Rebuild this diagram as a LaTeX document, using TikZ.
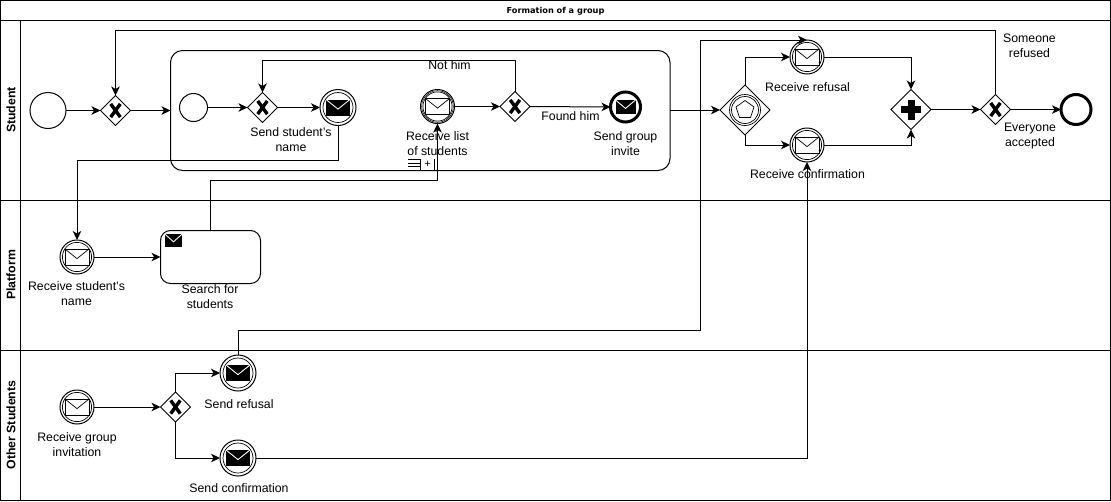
\documentclass[tikz,border=0pt]{standalone}
\usepackage{fontspec}
\setmainfont{Liberation Sans}
\newfontfamily\titlefont{DejaVu Sans}
\usetikzlibrary{shapes.geometric,arrows.meta,calc}
\newcommand{\lbl}{\fontsize{12.3}{15}\selectfont}
\tikzset{
  line/.style={line width=1pt,draw=black},
  flow/.style={line,-{Stealth[length=9pt,width=8.5pt,inset=2.5pt]}},
  evt/.style={circle,draw=black,line width=1pt,fill=white,inner sep=0pt,outer sep=0pt,minimum size=#1},
  thickevt/.style={circle,draw=black,line width=3pt,fill=white,inner sep=0pt,outer sep=0pt,minimum size=#1},
  gw/.style={diamond,aspect=1,draw=black,line width=1pt,fill=white,inner sep=0pt,outer sep=0pt,minimum width=#1,minimum height=#1},
  txt/.style={align=center,inner sep=0pt,font=\lbl},
  lane/.style={rotate=90,font=\fontsize{12.3}{15}\selectfont\bfseries,inner sep=0pt},
  activity/.style={rounded corners=#1,draw=black,line width=1pt,fill=white}
}
% envelope: centre, half width, half height; white or black
\newcommand{\envw}[3]{%
  \draw[line width=.7pt,fill=white] ($(#1)+(-#2,-#3)$) rectangle ($(#1)+(#2,#3)$);
  \draw[line width=.7pt] ($(#1)+(-#2,-#3)$) -- ($(#1)+(0,#3*.2)$) -- ($(#1)+(#2,-#3)$);}
\newcommand{\envb}[3]{%
  \fill[black] ($(#1)+(-#2,-#3)$) rectangle ($(#1)+(#2,#3)$);
  \draw[line width=.9pt,white] ($(#1)+(-#2,-#3)$) -- ($(#1)+(0,#3*.2)$) -- ($(#1)+(#2,-#3)$);}
\newcommand{\xmark}[1]{%
  \draw[line width=3.4pt,black] ($(#1)+(-4.8,-6.6)$) -- ($(#1)+(4.8,6.6)$) ($(#1)+(-4.8,6.6)$) -- ($(#1)+(4.8,-6.6)$);}
\begin{document}
\begin{tikzpicture}[x=1pt,y=-1pt]
\useasboundingbox (0,0) rectangle (1111,501);
\fill[white] (0,0) rectangle (1111,501);
% pool and lanes
\draw[line] (.5,.5) rectangle (1110.5,500.5);
\draw[line] (.5,20.5) -- (1110.5,20.5);
\draw[line] (.5,200.5) -- (1110.5,200.5);
\draw[line] (.5,350.5) -- (1110.5,350.5);
\draw[line] (20.5,20.5) -- (20.5,500.5);
\node[inner sep=0pt,font=\titlefont\bfseries\fontsize{8.2}{10}\selectfont] (title) at (555.5,11) {Formation of a group};
\node[lane] (lstudent) at (11,110) {Student};
\node[lane] (lplatform) at (11,275) {Platform};
\node[lane] (lother) at (11,425) {Other Students};
% sub-process
\node[activity=12pt,minimum width=499.5pt,minimum height=120pt,inner sep=0pt,outer sep=0pt] (sub) at (420.25,110.5) {};
% task
\node[activity=10pt,minimum width=100pt,minimum height=53pt,inner sep=0pt,outer sep=0pt] (task) at (210.5,257) {};
% events and gateways
\node[evt=36pt] (start) at (48,110.5) {};
\node[gw=30pt] (g1) at (115.5,110.5) {};
\node[evt=28pt] (istart) at (193.5,107.5) {};
\node[gw=30pt] (g2) at (262.5,107.5) {};
\node[evt=36pt] (send) at (338,107.5) {};
\node[evt=34pt] (rlist) at (437.5,106.5) {};
\node[gw=30pt] (g3) at (515,106.5) {};
\node[thickevt=30pt] (invite) at (625.5,107) {};
\node[gw=50pt] (ebg) at (745,110) {};
\node[evt=34pt] (rref) at (807,57) {};
\node[evt=34pt] (rconf) at (807,145) {};
\node[gw=40pt] (par) at (911,109.5) {};
\node[gw=30pt] (g4) at (995.5,109.5) {};
\node[thickevt=30pt] (end) at (1076,109.5) {};
\node[evt=34pt] (rname) at (77,257) {};
\node[evt=34pt] (rinv) at (77,407) {};
\node[gw=30pt] (g5) at (175.5,407) {};
\node[evt=36pt] (sref) at (238,373) {};
\node[evt=36pt] (sconf) at (238,458) {};
% inner rings
\foreach \n/\r in {send/15,sref/15,sconf/15,rlist/14.6,rref/14.6,rconf/14.6,rname/14.6,rinv/14.6}
  \draw[line width=.7pt] (\n) circle (\r pt);
\draw[line width=.5pt] (rlist) circle (15.8pt);
% icons
\envb{send}{12}{8}
\envb{sref}{12}{8}
\envb{sconf}{12}{8}
\envw{rlist}{12}{8}
\envw{rref}{12}{8}
\envw{rconf}{12}{8}
\envw{rname}{12}{8}
\envw{rinv}{12}{8}
\envb{invite}{10}{7}
\envb{173.5,240.5}{8.7}{6.5}
\foreach \n in {g1,g2,g3,g4,g5} {\xmark{\n}}
\fill[black] ($(par)+(-10,-3.5)$) rectangle ($(par)+(10,3.5)$);
\fill[black] ($(par)+(-3.5,-10)$) rectangle ($(par)+(3.5,10)$);
\draw[line width=.7pt] (ebg) circle (15.5pt);
\draw[line width=.7pt] (ebg) circle (13.5pt);
\draw[line width=.7pt] (745,100.5) -- (754,107) -- (750.5,117.5) -- (739.5,117.5) -- (736,107) -- cycle;
% loop marker
\draw[line width=.7pt] (408,159.5) -- (420,159.5) (408,163) -- (420,163) (408,166.5) -- (420,166.5);
\draw[line width=.7pt] (420.5,159) -- (420.5,170) (434.5,159) -- (434.5,170);
\node[inner sep=0pt,font=\fontsize{11}{11}\selectfont] (plus) at (427.5,164) {+};
% connectors
\draw[flow] (start) -- (g1);
\draw[flow] (g1) -- (sub.west |- g1);
\draw[flow] (istart) -- (g2);
\draw[flow] (g2) -- (send);
\draw[flow] (rlist) -- (g3);
\draw[flow] (g3) -- (invite);
\draw[flow] (g3.north) |- (262.5,60.5) -- (g2.north);
\draw[flow] (send.south) |- (77,160.5) -- (rname.north);
\draw[flow] (rname) -- (task.west |- rname);
\draw[flow] (task.north) |- (437.5,180.5) -- (rlist.south);
\draw[flow] (sub.east |- ebg) -- (ebg.west);
\draw[flow] (ebg.north) |- (rref.west);
\draw[flow] (ebg.south) |- (rconf.west);
\draw[flow] (rref.east) -| (par.north);
\draw[flow] (rconf.east) -| (par.south);
\draw[flow] (par.east) -- (g4.west);
\draw[flow] (g4.east) -- (end.west);
\draw[flow] (g4.north) |- (115.5,30.5) -- (g1.north);
\draw[flow] (rinv) -- (g5);
\draw[flow] (g5.north) |- (sref.west);
\draw[flow] (g5.south) |- (sconf.west);
\draw[flow] (sref.north) |- (700.5,330.5) |- (rref.north);
\draw[flow] (sconf.east) -| (rconf.south);
% labels
\node[txt] (t1) at (291,139.5) {Send student's\\name};
\node[txt] (t2) at (437.5,144) {Receive list\\of students};
\node[txt] (t3) at (625.5,143.5) {Send group\\invite};
\node[txt] (t4) at (570.5,116) {Found him};
\node[txt] (t5) at (449.5,65.5) {Not him};
\node[txt] (t6) at (807.5,87) {Receive refusal};
\node[txt] (t7) at (807.5,174.5) {Receive confirmation};
\node[txt] (t8) at (1029.5,45.5) {Someone\\refused};
\node[txt] (t9) at (1030,136) {Everyone\\accepted};
\node[txt] (t10) at (76.5,293.5) {Receive student's\\name};
\node[txt] (t11) at (210,297) {Search for\\students};
\node[txt] (t12) at (77,444.5) {Receive group\\invitation};
\node[txt] (t13) at (239,404) {Send refusal};
\node[txt] (t14) at (239,488.5) {Send confirmation};
\end{tikzpicture}
\end{document}
